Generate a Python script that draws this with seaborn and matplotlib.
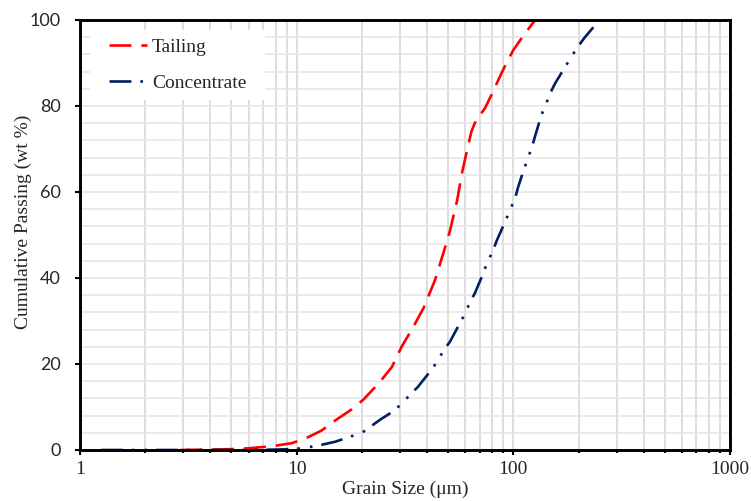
import pandas as pd
import matplotlib
matplotlib.use('Agg')
import matplotlib.pyplot as plt
import seaborn as sns
from matplotlib.patches import Rectangle
from matplotlib.ticker import LogLocator, NullFormatter, FixedLocator

# --- Data ---
tailing_size = [2.9, 4, 5, 6, 7, 8, 9.5, 11, 13, 15, 18, 20.4, 24, 27.5, 30.5,
                34.5, 38.5, 43.5, 48, 51, 55, 58, 61, 64, 67, 74, 80, 87, 93,
                100, 110, 126]
tailing_pass = [0, 0.1, 0.2, 0.4, 0.7, 1.0, 1.6, 2.7, 4.5, 6.8, 9.5, 11.8, 15.6,
                19.3, 24, 28.6, 33, 39.5, 46.5, 51, 58, 64.5, 69.5, 74, 76.5,
                79.5, 83, 87, 90, 93, 96, 100]

conc_size = [1.25, 2, 3, 4, 5, 6, 8, 9.5, 11, 13, 15, 17.5, 20.4, 24.2, 27.7,
             30.5, 33, 36.3, 41.2, 44.5, 47.3, 51, 56.7, 60, 63, 66.5, 72.5, 76,
             80, 84, 91.5, 96.5, 102, 105, 111, 117, 122, 126, 135, 141, 148,
             156, 173, 186, 200, 214, 250]
conc_pass = [0, 0, 0, 0, 0, 0, 0.1, 0.2, 0.5, 1.2, 1.9, 3, 4.3, 7, 8.9, 10.7,
             12.6, 14.7, 18.2, 20.5, 22.9, 25.2, 29.5, 31.8, 34.3, 36.5, 41,
             43.8, 46, 48.8, 53, 55.8, 58.6, 61, 64.7, 68, 70.5, 73, 78, 80.2,
             83, 85.3, 89, 91.6, 94, 96, 100]

x_ticks = [1, 10, 100, 1000]
y_ticks = [0, 20, 40, 60, 80, 100]

SERIF = 'Liberation Serif'
SANS = 'Lato'


def main():
    sns.set_theme(style="white")
    plt.rcParams['font.family'] = [SERIF, 'DejaVu Sans']

    fig, ax = plt.subplots(figsize=(7.51, 5.01), dpi=100)
    fig.subplots_adjust(left=80 / 751, right=730 / 751,
                        top=1 - 20 / 501, bottom=1 - 450 / 501)

    tail_df = pd.DataFrame({'size': tailing_size, 'passing': tailing_pass})
    conc_df = pd.DataFrame({'size': conc_size, 'passing': conc_pass})

    sns.lineplot(data=tail_df, x='size', y='passing', ax=ax, color='#ff0000',
                 linewidth=1.9, label='Tailing', estimator=None, sort=False)
    sns.lineplot(data=conc_df, x='size', y='passing', ax=ax, color='#002060',
                 linewidth=1.9, label='Concentrate', estimator=None, sort=False)

    lines = ax.get_lines()
    lines[0].set_dashes((8.3, 3.8))
    lines[1].set_dashes((8.3, 3.4, 1.0, 3.8, 1.0, 3.4))
    for ln in lines:
        ln.set_dash_capstyle('butt')
        ln.set_zorder(3)

    ax.set_xscale('log')
    ax.set_xlim(1, 1000)
    ax.set_ylim(0, 100)

    ax.xaxis.set_major_locator(FixedLocator(x_ticks))
    ax.xaxis.set_minor_locator(LogLocator(base=10, subs=range(2, 10)))
    ax.xaxis.set_minor_formatter(NullFormatter())
    ax.set_xticklabels([str(t) for t in x_ticks])
    ax.yaxis.set_major_locator(FixedLocator(y_ticks))
    ax.yaxis.set_minor_locator(FixedLocator(range(0, 101, 4)))

    ax.grid(True, axis='x', which='both', color='#d4d4d4', linewidth=1.1)
    ax.grid(True, axis='y', which='both', color='#e4e4e4', linewidth=1.1)
    ax.set_axisbelow(True)

    for sp in ax.spines.values():
        sp.set_visible(True)
        sp.set_color('black')
        sp.set_linewidth(2.1)
        sp.set_zorder(4)

    ax.tick_params(axis='x', which='major', direction='out', length=3.6,
                   width=1.5, color='black', labelsize=14, pad=4, bottom=True)
    ax.tick_params(axis='x', which='minor', direction='out', length=2.5,
                   width=1.5, color='black', bottom=True)
    ax.tick_params(axis='y', which='major', direction='out', length=3.6,
                   width=1.5, color='black', labelsize=13, pad=10, left=True)
    ax.tick_params(axis='y', which='minor', length=0)

    for lbl in ax.get_xticklabels():
        lbl.set_fontfamily(SERIF)
    for lbl in ax.get_yticklabels():
        lbl.set_fontfamily(SANS)

    ax.set_xlabel('Grain Size (\u03bcm)', fontsize=14, fontfamily=SERIF, labelpad=2)
    ax.set_ylabel('Cumulative Passing (wt %)', fontsize=14, fontfamily=SERIF)
    ax.yaxis.set_label_coords(-0.074, 0.53)

    # white background behind the legend, covering the grid
    ax.add_patch(Rectangle((10 / 650, 350 / 430), 175 / 650, 70 / 430,
                           transform=ax.transAxes, facecolor='white',
                           edgecolor='none', zorder=2))

    leg = ax.legend(loc='upper left', bbox_to_anchor=(29 / 650, 1 - 18 / 430),
                    fontsize=14, frameon=False, handlelength=1.96,
                    borderaxespad=0, borderpad=0, labelspacing=0.95,
                    handletextpad=0.26)
    for t in leg.get_texts():
        t.set_fontfamily(SERIF)

    fig.savefig('out.png', dpi=100)
    plt.close(fig)


if __name__ == "__main__":
    main()
